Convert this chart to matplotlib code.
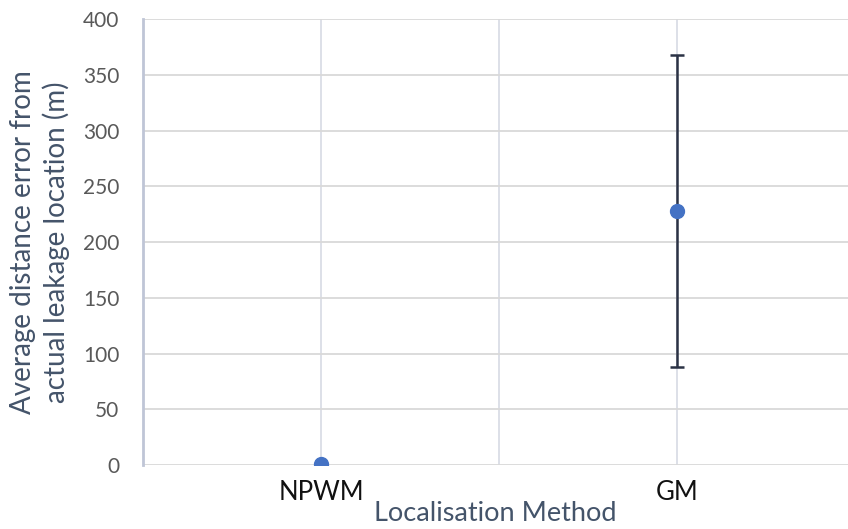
import matplotlib.pyplot as plt

# data
methods = ['NPWM', 'GM']
mean_error = [1, 228]
error_bar = [0, 140]

plt.rcParams['font.family'] = ['Lato', 'DejaVu Sans']

fig = plt.figure(figsize=(8.48, 5.29), dpi=100)
ax = fig.add_axes([0.1686, 0.121, 0.8314, 0.843])

xpos = [1, 3]
ax.errorbar(xpos, mean_error, yerr=error_bar, fmt='o', color='#4472C4',
            markersize=10, ecolor='#2B3245', elinewidth=1.8, capsize=5,
            capthick=1.8, zorder=3)

ax.set_xlim(0, 3.96)
ax.set_ylim(0, 400)
ax.set_yticks(range(0, 401, 50))
ax.set_xticks([1, 2, 3])
ax.set_xticklabels([methods[0], '', methods[1]])

ax.grid(axis='y', color='#D9D9D9', linewidth=1.3, zorder=0)
ax.grid(axis='x', color='#DADDE6', linewidth=1.3, zorder=0)
ax.set_axisbelow(True)

for s in ['top', 'right', 'bottom']:
    ax.spines[s].set_visible(False)
ax.spines['left'].set_color('#BFC5D6')
ax.spines['left'].set_linewidth(2)

ax.tick_params(axis='both', length=0)
ax.tick_params(axis='y', labelsize=15, labelcolor='#595959', pad=17)
ax.tick_params(axis='x', labelsize=18.5, labelcolor='#111111', pad=11)

ax.set_ylabel('Average distance error from\nactual leakage location (m)',
              fontsize=20, color='#44546A', labelpad=9, linespacing=1.3)
ax.set_xlabel('Localisation Method', fontsize=19.5, color='#44546A', labelpad=-3)

plt.savefig('out.png')
